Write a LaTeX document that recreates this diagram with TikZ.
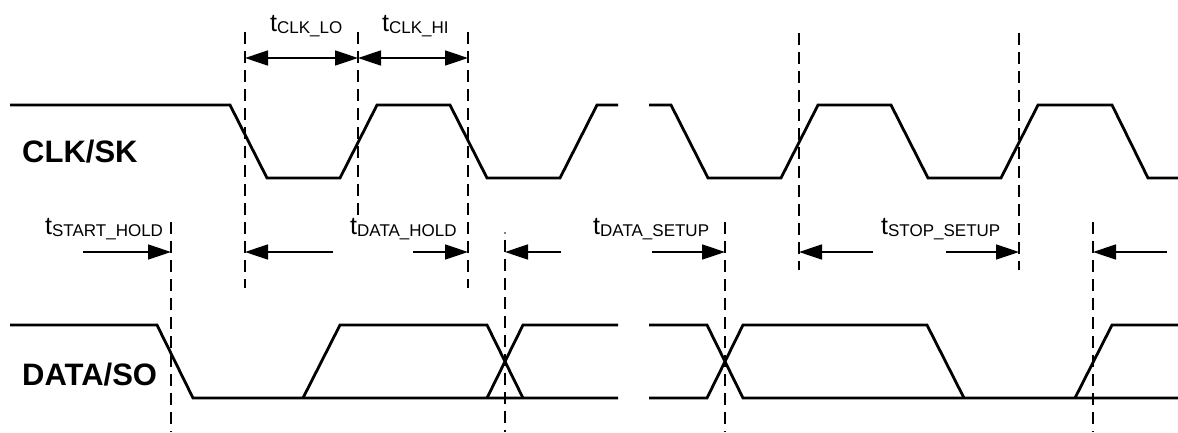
\documentclass[tikz,border=0pt]{standalone}
\usepackage{fontspec}
\setmainfont{Liberation Sans}
\usetikzlibrary{arrows.meta}
\newcommand{\tlab}[1]{{\fontsize{25}{25}\selectfont t}\raisebox{-2pt}{\fontsize{17}{17}\selectfont #1}}
\begin{document}
\begin{tikzpicture}[x=1pt,y=-1pt,
  wave/.style={line width=2.8pt,line join=miter},
  vguide/.style={line width=1.8pt,dash pattern=on 12pt off 7pt},
  arr/.style={line width=1.6pt,-{Triangle[length=23pt,width=15pt]}},
  darr/.style={line width=1.6pt,{Triangle[length=23pt,width=15pt]}-{Triangle[length=23pt,width=15pt]}},
  lab/.style={inner sep=0pt,anchor=base west},
  sig/.style={inner sep=0pt,anchor=base west,font=\fontsize{31}{31}\selectfont\bfseries}]
\useasboundingbox (0,0) rectangle (1178,432);

% signal names
\node[sig] (clk) at (22,162) {CLK/SK};
\node[sig] (dat) at (22,385) {DATA/SO};

% CLK waveform
\draw[wave] (10,105) -- (230,105) -- (267,178) -- (340,178) -- (377,105) -- (450,105)
  -- (487,178) -- (560,178) -- (597,105) -- (618,105);
\draw[wave] (649,105) -- (671,105) -- (708,178) -- (781,178) -- (818,105) -- (891,105)
  -- (928,178) -- (1001,178) -- (1038,105) -- (1112,105) -- (1148,178) -- (1178,178);

% DATA waveform
\draw[wave] (10,325) -- (157,325) -- (193,398) -- (618,398);
\draw[wave] (303,398) -- (340,325) -- (487,325) -- (523,398);
\draw[wave] (487,398) -- (523,325) -- (618,325);
\draw[wave] (649,325) -- (707,325) -- (743,398) -- (1178,398);
\draw[wave] (649,398) -- (707,398) -- (743,325) -- (927,325) -- (964,398);
\draw[wave] (1075,398) -- (1112,325) -- (1178,325);

% dashed guides
\coordinate (g1t) at (245,32);  \coordinate (g1b) at (245,288);
\coordinate (g2t) at (358,32);  \coordinate (g2b) at (358,215);
\coordinate (g3t) at (468,32);  \coordinate (g3b) at (468,288);
\coordinate (g4t) at (799,33);  \coordinate (g4b) at (799,270);
\coordinate (g5t) at (1019,33); \coordinate (g5b) at (1019,270);
\coordinate (g6t) at (171,222); \coordinate (g6b) at (171,432);
\coordinate (g7t) at (505,240); \coordinate (g7b) at (505,432);
\coordinate (g8t) at (725,222); \coordinate (g8b) at (725,432);
\coordinate (g9t) at (1093,222); \coordinate (g9b) at (1093,432);
\foreach \g in {1,...,9} \draw[vguide] (g\g t) -- (g\g b);
\fill (505,233) circle (0.9pt);

% arrows
\draw[darr] (245,58) -- (358,58);
\draw[darr] (358,58) -- (468,58);
\draw[arr] (83,252) -- (171,252);
\draw[arr] (333,252) -- (245,252);
\draw[arr] (413,252) -- (468,252);
\draw[arr] (561,252) -- (505,252);
\draw[arr] (652,252) -- (725,252);
\draw[arr] (873,252) -- (799,252);
\draw[arr] (946,252) -- (1019,252);
\draw[arr] (1167,252) -- (1093,252);

% timing labels
\node[lab] (tlo) at (270,31) {\tlab{CLK\_LO}};
\node[lab] (thi) at (382,31) {\tlab{CLK\_HI}};
\node[lab] (tsh) at (45,234) {\tlab{START\_HOLD}};
\node[lab] (tdh) at (350,234) {\tlab{DATA\_HOLD}};
\node[lab] (tds) at (593,234) {\tlab{DATA\_SETUP}};
\node[lab] (tss) at (881,234) {\tlab{STOP\_SETUP}};
\end{tikzpicture}
\end{document}
